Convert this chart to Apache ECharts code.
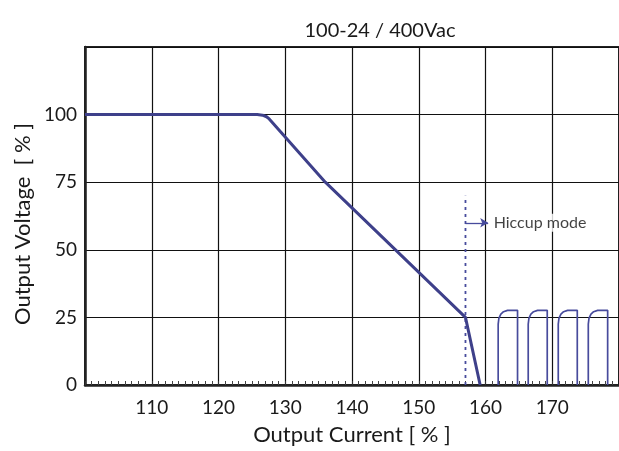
<!DOCTYPE html>
<html>
<head>
<meta charset="utf-8">
<script src="https://cdn.jsdelivr.net/npm/echarts@6/dist/echarts.min.js"></script>
<style>
html,body{margin:0;padding:0;background:#fff;}
#chart{width:619px;height:451px;}
</style>
</head>
<body>
<div id="chart"></div>
<script>
// Data
var chartTitle = '100-24 / 400Vac';
var xAxisTitle = 'Output Current [ % ]';
var yAxisTitle = 'Output Voltage  [ % ]';
var xTicks = [110, 120, 130, 140, 150, 160, 170];
var yTicks = [0, 25, 50, 75, 100];

// main V/I curve (current %, voltage %)
var curveX = [100, 125.8, 126.6, 127.2, 127.6, 136, 157, 159.2];
var curveY = [100, 100, 99.8, 99.2, 98.4, 75, 25, 0];

// hiccup pulses
var pulse1 = [[161.9,0],[161.9,22.5],[162.0,24.6],[162.3,26.2],[162.7,27.1],[163.3,27.6],[164.8,27.6],[164.8,0]];
var pulse2 = [[166.4,0],[166.4,22.5],[166.5,24.6],[166.8,26.2],[167.2,27.1],[167.8,27.6],[169.25,27.6],[169.25,0]];
var pulse3 = [[170.9,0],[170.9,22.5],[171.0,24.6],[171.3,26.2],[171.7,27.1],[172.3,27.6],[173.75,27.6],[173.75,0]];
var pulse4 = [[175.4,0],[175.4,22.5],[175.5,24.6],[175.8,26.2],[176.2,27.1],[176.8,27.6],[178.3,27.6],[178.3,0]];

// hiccup threshold marker
var hiccupX = 157;
var hiccupLineTop = 70;
var arrowY = 60;
var arrowEndX = 160.4;
var hiccupLabel = 'Hiccup mode';
var hiccupLabelX = 161.0;

var FONT = 'Lato';
var curveColor = '#3e408a';
var pulseColor = '#474b9c';

var chart = echarts.init(document.getElementById('chart'));

var curveData = curveX.map(function (x, i) { return [x, curveY[i]]; });

function pulseSeries(d) {
  return {
    type: 'line', data: d, showSymbol: false, symbol: 'none', z: 4,
    lineStyle: { color: pulseColor, width: 1.7 }, silent: true, animation: false
  };
}

var option = {
  animation: false,
  backgroundColor: '#fff',
  grid: {
    left: 85, top: 47, right: -4, bottom: 63,
    show: true, borderColor: '#222', borderWidth: 2, containLabel: false
  },
  xAxis: {
    type: 'value', min: 100, max: 180, interval: 10,
    axisLine: { show: true, onZero: false, lineStyle: { color: '#222', width: 2.5 } },
    axisTick: { show: true, inside: true, length: 4, lineStyle: { color: '#333', width: 1 } },
    minorTick: { show: true, splitNumber: 10, length: 4, lineStyle: { color: '#444', width: 1 } },
    splitLine: { show: true, lineStyle: { color: '#111', width: 1.2 } },
    axisLabel: {
      fontFamily: FONT, fontSize: 19, color: '#1a1a1a', margin: 13,
      showMinLabel: false, showMaxLabel: false,
      formatter: function (v) { return xTicks.indexOf(v) >= 0 ? String(v) : ''; }
    },
    name: xAxisTitle, nameLocation: 'middle', nameGap: 39,
    nameTextStyle: { fontFamily: FONT, fontSize: 22, color: '#1a1a1a' }
  },
  yAxis: {
    type: 'value', min: 0, max: 125, interval: 25,
    axisLine: { show: true, lineStyle: { color: '#222', width: 2.5 } },
    axisTick: { show: false },
    splitLine: { show: true, lineStyle: { color: '#111', width: 1.2 } },
    axisLabel: {
      fontFamily: FONT, fontSize: 19, color: '#1a1a1a', margin: 8,
      formatter: function (v) { return yTicks.indexOf(v) >= 0 ? String(v) : ''; }
    }
  },
  graphic: [
    { type: 'text', x: 380, y: 31, style: { text: chartTitle, font: '20px ' + FONT, fill: '#1a1a1a', textAlign: 'center', textVerticalAlign: 'middle' } },
    { type: 'text', x: 23, y: 224, rotation: Math.PI / 2, style: { text: yAxisTitle, font: '22px ' + FONT, fill: '#1a1a1a', textAlign: 'center', textVerticalAlign: 'middle' } }
  ],
  series: [
    {
      type: 'line', data: curveData, showSymbol: false, symbol: 'none', z: 5,
      lineStyle: { color: curveColor, width: 3 }, silent: true
    },
    pulseSeries(pulse1), pulseSeries(pulse2), pulseSeries(pulse3), pulseSeries(pulse4),
    {
      type: 'line', data: [[hiccupX, 0], [hiccupX, hiccupLineTop]], showSymbol: false, symbol: 'none', z: 3,
      lineStyle: { color: pulseColor, width: 1.8, type: [3, 4] }, silent: true,
      markLine: {
        silent: true, symbol: ['none', 'arrow'], symbolSize: [7, 8],
        label: { show: false },
        lineStyle: { color: pulseColor, width: 1.3, type: 'solid' },
        data: [[{ coord: [hiccupX, arrowY] }, { coord: [arrowEndX, arrowY] }]]
      }
    },
    {
      type: 'scatter', data: [[hiccupLabelX, arrowY]], symbolSize: 1, z: 6,
      itemStyle: { color: 'rgba(0,0,0,0)' }, silent: true,
      label: {
        show: true, position: 'right', distance: 0, formatter: hiccupLabel,
        fontFamily: FONT, fontSize: 16, color: '#111',
        backgroundColor: '#fff', padding: [1, 2, 1, 1]
      }
    }
  ]
};
chart.setOption(option);
</script>
</body>
</html>
